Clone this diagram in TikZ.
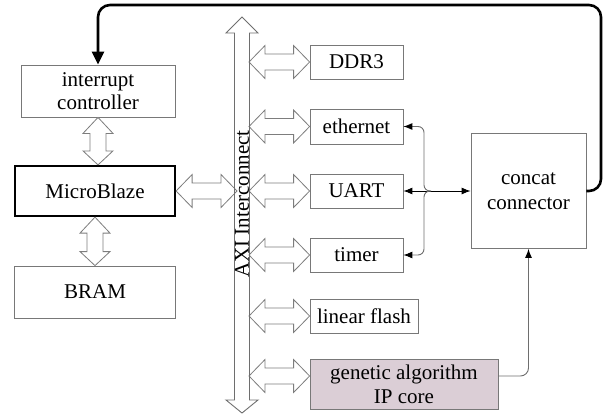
\documentclass[tikz,border=0pt]{standalone}
\usepackage{fontspec}
\setmainfont{Liberation Serif}
\usetikzlibrary{arrows.meta,calc}

\definecolor{boxgray}{RGB}{120,120,120}
\definecolor{arrgray}{RGB}{125,125,125}
\definecolor{linkgray}{RGB}{110,110,110}
\definecolor{gafill}{RGB}{219,206,214}

% horizontal block arrow with two heads, from #1 (left) to #2 (right)
\newcommand{\hdarrow}[2]{%
  \draw[blockarrow] let \p1 = (#1), \p2 = (#2) in
    (\x1,\y1) -- (\x1+16pt,\y1+16.5pt) -- (\x1+16pt,\y1+8pt)
    -- (\x2-16pt,\y1+8pt) -- (\x2-16pt,\y1+16.5pt) -- (\x2,\y1)
    -- (\x2-16pt,\y1-16.5pt) -- (\x2-16pt,\y1-8pt)
    -- (\x1+16pt,\y1-8pt) -- (\x1+16pt,\y1-16.5pt) -- cycle;}

% vertical block arrow with two heads, from #1 (top) to #2 (bottom),
% head half width #3, shaft half width #4
\newcommand{\vdarrow}[4]{%
  \draw[blockarrow] let \p1 = (#1), \p2 = (#2) in
    (\x1,\y1) -- (\x1+#3,\y1-16pt) -- (\x1+#4,\y1-16pt)
    -- (\x1+#4,\y2+14pt) -- (\x1+#3,\y2+14pt) -- (\x1,\y2)
    -- (\x1-#3,\y2+14pt) -- (\x1-#4,\y2+14pt)
    -- (\x1-#4,\y1-16pt) -- (\x1-#3,\y1-16pt) -- cycle;}

\begin{document}
\begin{tikzpicture}[x = 1pt, y = -1pt,
    font = \fontsize{21}{23}\selectfont,
    box/.style = {draw = boxgray, line width = 0.8pt, inner sep = 0pt, align = center},
    cpu/.style = {draw = black, line width = 2.2pt, inner sep = 0pt, align = center},
    blockarrow/.style = {draw = arrgray, fill = white, line width = 0.8pt},
    bus/.style = {draw = linkgray, line width = 0.9pt},
    link/.style = {draw = linkgray, line width = 0.9pt},
    irq/.style = {draw = black, line width = 2.6pt, rounded corners = 12pt}]
  \useasboundingbox (0,0) rectangle (608,416);

  % left column
  \node [box, minimum width = 154pt, minimum height = 52pt] (intc) at (98, 91)
        {interrupt\\controller};
  \node [cpu, minimum width = 160pt, minimum height = 50pt] (mb) at (95, 191) {MicroBlaze};
  \node [box, minimum width = 161pt, minimum height = 52pt] (bram) at (95, 292) {BRAM};

  % peripherals
  \node [box, minimum width = 93pt, minimum height = 34pt] (ddr) at (356.5, 62) {DDR3};
  \node [box, minimum width = 93pt, minimum height = 35pt] (eth) at (356.5, 126.5) {ethernet};
  \node [box, minimum width = 93pt, minimum height = 34pt] (uart) at (356.5, 191) {UART};
  \node [box, minimum width = 93pt, minimum height = 34pt] (timer) at (356.5, 255) {timer};
  \node [box, minimum width = 108pt, minimum height = 34pt] (flash) at (364, 316) {linear flash};
  \node [box, fill = gafill, minimum width = 188pt, minimum height = 50pt,
         font = \fontsize{21}{24}\selectfont] (ga) at (404, 384)
        {genetic algorithm\\IP core};
  \node [box, minimum width = 115pt, minimum height = 115pt,
         font = \fontsize{21}{25}\selectfont] (concat) at (528.5, 191)
        {concat\\connector};

  % AXI bus
  \coordinate (axitop) at (242, 17);
  \coordinate (axibot) at (242, 413);
  \coordinate (axiL) at (237, 0);
  \coordinate (axiR) at (249, 0);
  \coordinate (gain) at ([yshift = 8pt]ga.west);
  \coordinate (gaout) at ([yshift = 8pt]ga.east);
  \coordinate (brace) at (431, 191);
  \coordinate (top) at (601, 5);

  % block arrows
  \vdarrow{intc.south}{mb.north}{15pt}{8pt}
  \vdarrow{mb.south}{bram.north}{15pt}{8pt}
  \hdarrow{mb.east}{axiL |- mb.east}
  \hdarrow{axiR |- ddr.west}{ddr.west}
  \hdarrow{axiR |- eth.west}{eth.west}
  \hdarrow{axiR |- uart.west}{uart.west}
  \hdarrow{axiR |- timer.west}{timer.west}
  \hdarrow{axiR |- flash.west}{flash.west}
  \hdarrow{axiR |- gain}{gain}

  \draw [bus] (axitop) -- (258, 33) -- (249.5, 33) -- (249.5, 400) -- (258, 400)
        -- (axibot) -- (226, 400) -- (234.5, 400) -- (234.5, 33) -- (226, 33) -- cycle;
  \node [rotate = 90] (axi) at (242, 204) {AXI Interconnect};

  % interrupt lines
  \draw [link, {Latex[length = 9pt, width = 7pt, black]}-{Latex[length = 9pt, width = 7pt, black]}, draw = black]
        (uart.east) -- (concat.west);
  \draw [link, rounded corners = 6pt, {Latex[length = 9pt, width = 7pt, black]}-]
        (eth.east) -| ([xshift = -7pt]brace) -- (brace);
  \draw [link, rounded corners = 6pt, {Latex[length = 9pt, width = 7pt, black]}-]
        (timer.east) -| ([xshift = -7pt]brace) -- (brace);
  \draw [link, rounded corners = 8pt, -{Latex[length = 9pt, width = 7pt, black]}]
        (gaout) -| (concat.south);
  \draw [irq, -{Triangle[length = 13pt, width = 12pt]}]
        (concat.east) -| (top) -| (intc.north);
\end{tikzpicture}
\end{document}
